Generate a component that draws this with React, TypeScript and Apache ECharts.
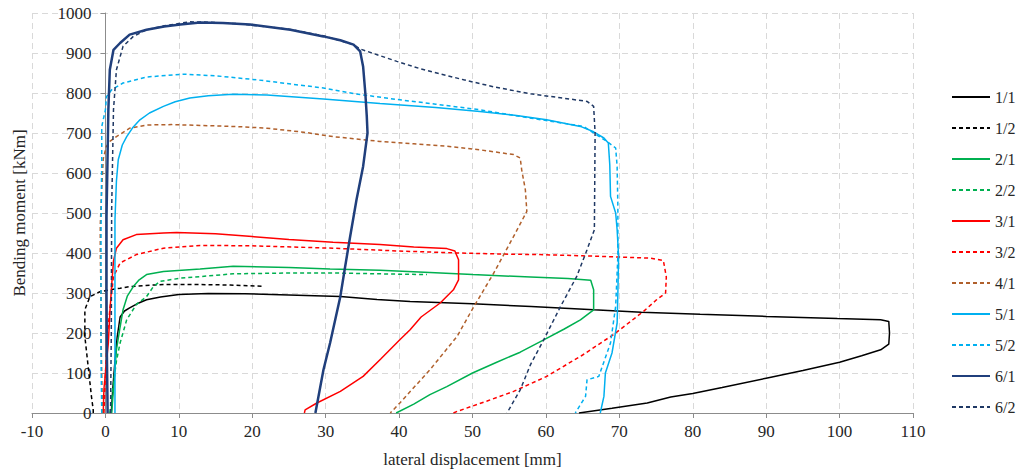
import React, { useEffect, useRef } from "react";
import * as echarts from "echarts";

const seriesNames = ["1/1", "1/2", "2/1", "2/2", "3/1", "3/2", "4/1", "5/1", "5/2", "6/1", "6/2"];

const s11 = [[0.8,0],[1.0,60],[1.3,130],[1.6,190],[2.0,240],[2.6,255],[3.3,263],[4.3,273],[5.6,283],[7.5,290],[10,296],[14,299],[19,298],[25,295],[32,291],[37,284],[41.5,279],[50,273],[58,266],[66.5,258],[73,252],[81,247],[90,241.5],[99.7,236],[105.6,233],[106.7,229],[106.8,200],[106.7,172],[105.6,158],[103,143],[100,127],[95,106],[90,87],[84,64],[80,49],[77,40],[73.8,25],[69,12],[64.5,0]];
const s12 = [[-1.66,0],[-1.66,8],[-1.9,41],[-2.3,108],[-2.8,191],[-2.8,258],[-2.1,291],[-0.75,303],[0.6,308],[2,312],[3.3,316],[5.5,319],[7.9,321],[12.9,321],[17,320],[21.3,317]];
const s21 = [[0.85,0],[1.1,60],[1.5,158],[2.0,215],[2.4,258],[3.0,293],[3.8,316],[4.6,333],[5.6,346],[7.9,354],[12.9,360],[17.4,367],[25,364],[30.6,360],[37.4,357],[44.2,351],[50,346],[57.9,340],[63,336],[66.1,332],[66.5,308],[66.5,258],[64.7,233],[62.5,210],[59.7,183],[56.5,152],[53.3,127],[50,100],[46.5,66],[44.2,46],[42,22],[39.6,0]];
const s22 = [[0.6,0],[1.0,60],[1.5,130],[2.0,175],[2.9,233],[4.2,271],[5.6,291],[6.5,315],[7.4,329],[10.2,337],[12.9,341],[17.4,348],[25,350],[31,350],[37,348],[43.8,346]];
const s31 = [[-0.3,0],[-0.2,60],[0.1,120],[0.4,175],[0.6,250],[0.85,320],[1.1,380],[1.5,412],[2.4,433],[4.2,446],[7.9,450],[9.7,451],[15,448],[20,441],[25,434],[31,427],[37.4,421],[42,415],[46.5,411],[47.6,405],[48.1,383],[48.1,333],[47.4,308],[45.6,275],[43,240],[41.5,208],[40.1,183],[37.5,135],[35.1,91.5],[32,54],[28.8,25],[27.2,8],[27.1,0]];
const s32 = [[-0.2,0],[0,100],[0.3,200],[0.6,258],[1.1,341],[2.0,375],[4.2,396],[7.9,412],[12.9,419],[20,418],[31,412],[40,405],[47.9,400],[55,397],[59.2,396],[65,393],[70,390],[74.2,387],[76,381],[76.4,340],[76.3,300],[75,282],[73.3,254],[69.2,196],[65,145],[60.1,91.5],[55.6,54],[52,30],[47.9,4],[47.4,0]];
const s41 = [[-0.4,0],[-0.5,100],[-0.6,200],[-0.6,300],[-0.7,400],[-0.7,470],[-0.5,560],[-0.3,635],[0.1,665],[0.6,679],[1.5,691],[3.3,712],[5.6,720],[9,721],[12.9,719],[18,716],[22,712],[27,702],[31,691],[37.4,679],[42,673],[46.5,667],[51,658],[55.6,646],[56.5,637.5],[56.7,608],[57.2,558],[57.4,504],[55.6,441.5],[52.9,350],[50.2,266.5],[47.9,191.5],[44.2,108],[40.1,25],[38.8,0]];
const s51 = [[1.3,0],[1.3,200],[1.3,400],[1.3,483],[1.5,580],[1.75,633],[2.3,670],[2.9,691],[3.7,713],[4.7,733],[6,750],[7.9,766.5],[9.5,778],[11.5,787.5],[14,793],[17.4,797],[22,795],[29.7,785],[37.4,774],[45,764],[51,754],[56,744],[60.1,733],[64.7,716.5],[66.5,703],[67.9,687.5],[68.5,675],[68.7,620],[68.8,541.5],[69.5,500],[69.7,458],[69.9,391.5],[69.8,300],[69.7,225],[69,150],[68.1,100],[67.9,41.5],[67.4,0]];
const s52 = [[-0.5,0],[-0.6,150],[-0.6,300],[-0.6,450],[-0.5,633],[-0.5,716],[0,758],[0.15,791],[0.85,808],[2.4,825],[5.6,840],[10.6,847],[15,843],[20.6,833],[25,823],[29.7,812.5],[34,798],[38.8,786],[45,772],[51,758],[58,737],[65.1,716.5],[68.3,679],[69.5,662.5],[69.7,616.5],[69.8,516.5],[69.8,391.5],[69.5,266.5],[68.8,175],[67.2,91.5],[65.6,83],[65.4,41.5],[64,0]];
const s61 = [[0.3,0],[0.2,150],[0.15,300],[0.15,491],[0.3,650],[0.4,758],[0.6,858],[1.1,908],[2,925],[3.3,946],[5.6,958],[8,966],[10.2,971],[12.9,976],[16,975],[19.7,971],[25.2,958],[29.7,941.5],[32,932],[33.8,921],[34.7,904],[35.1,866.5],[35.4,800],[35.6,741.5],[35.7,700],[35.1,616.5],[34.2,533],[33.3,437.5],[32.6,360],[32,291.5],[30.6,175],[29.7,108],[28.6,0]];
const s62 = [[0.7,0],[0.8,200],[0.85,508],[1.1,758],[1.5,858],[2.4,916.5],[3.8,941.5],[5.6,958],[8,968],[11.5,978],[14,977],[18.3,973],[25.2,959],[29.7,943],[33.8,921],[34.7,910],[39.7,879],[43,860],[48.8,833],[53,815],[57.9,798],[62,788],[65.6,779],[66.5,766.5],[66.7,700],[66.6,458],[65.6,408],[64.2,341.5],[62,266.5],[59.7,183],[57.9,121],[56.5,58],[54.7,0]];

const seriesData = [s11, s12, s21, s22, s31, s32, s41, s51, s52, s61, s62];
const seriesColors = ["#000000", "#000000", "#00b050", "#00b050", "#ff0000", "#ff0000", "#b0602c", "#00b0f0", "#00b0f0", "#203f7c", "#1f3864"];
const seriesDashed = [false, true, false, true, false, true, true, false, true, false, true];
const seriesWidths = [1.5, 1.5, 1.5, 1.5, 1.5, 1.5, 1.5, 1.5, 1.5, 2.5, 1.5];

const xTicks = { min: -10, max: 110, interval: 10 };
const yTicks = { min: 0, max: 1000, interval: 100 };

const FONT = "'Liberation Serif', 'Times New Roman', serif";
const TEXT = "#262626";

const GRID_LEFT = 32;
const GRID_RIGHT = 106;
const PLOT_W = 1019 - GRID_LEFT - GRID_RIGHT;
// y axis sits at x = 0 on the x scale
const Y_AXIS_OFFSET = -((0 - xTicks.min) / (xTicks.max - xTicks.min)) * PLOT_W;

export default function App() {
  const ref = useRef<HTMLDivElement>(null);
  useEffect(() => {
    if (!ref.current) return;
    const chart = echarts.init(ref.current, undefined, { renderer: "svg" });
    chart.setOption({
      animation: false,
      backgroundColor: "#ffffff",
      textStyle: { fontFamily: FONT, color: TEXT },
      grid: { left: GRID_LEFT, right: GRID_RIGHT, top: 13, bottom: 60, containLabel: false, outerBoundsMode: "none" },
      legend: {
        orient: "vertical",
        left: 951,
        top: 89,
        padding: 0,
        itemWidth: 38,
        itemHeight: 14,
        itemGap: 15,
        data: seriesNames,
        itemStyle: { opacity: 0 },
        textStyle: { fontFamily: FONT, fontSize: 16, color: TEXT },
      },
      xAxis: {
        type: "value",
        min: xTicks.min,
        max: xTicks.max,
        interval: xTicks.interval,
        name: "lateral displacement [mm]",
        nameLocation: "middle",
        nameGap: 38,
        nameTextStyle: { fontFamily: FONT, fontSize: 17, color: TEXT },
        axisLine: { onZero: false, lineStyle: { color: "#8c8c8c", width: 1 } },
        axisTick: { show: true, length: 5, lineStyle: { color: "#8c8c8c" } },
        axisLabel: { fontFamily: FONT, fontSize: 17, color: TEXT, margin: 10, formatter: (v: number) => String(v) },
        splitLine: { show: true, lineStyle: { color: "#d9d9d9", type: [6, 4], width: 1 } },
      },
      yAxis: {
        type: "value",
        min: yTicks.min,
        max: yTicks.max,
        interval: yTicks.interval,
        offset: Y_AXIS_OFFSET,
        name: "Bending moment [kNm]",
        nameLocation: "middle",
        nameGap: 77,
        nameTextStyle: { fontFamily: FONT, fontSize: 17, color: TEXT },
        axisLine: { show: true, onZero: false, lineStyle: { color: "#8c8c8c", width: 1 } },
        axisTick: { show: true, length: 5, lineStyle: { color: "#8c8c8c" } },
        axisLabel: { fontFamily: FONT, fontSize: 17, color: TEXT, margin: 14, formatter: (v: number) => String(v) },
        splitLine: { show: true, lineStyle: { color: "#d9d9d9", type: [6, 4], width: 1 } },
      },
      series: seriesNames.map((name, i) => ({
        name,
        type: "line",
        data: seriesData[i],
        symbol: "none",
        smooth: false,
        color: seriesColors[i],
        lineStyle: {
          color: seriesColors[i],
          width: seriesWidths[i],
          type: seriesDashed[i] ? [4, 3] : "solid",
        },
        z: i === 9 ? 3 : 2,
      })),
    });
    return () => chart.dispose();
  }, []);
  return (
    <div
      ref={ref}
      style={{ position: "fixed", left: 0, top: 0, width: 1019, height: 473, background: "#fff" }}
    />
  );
}
